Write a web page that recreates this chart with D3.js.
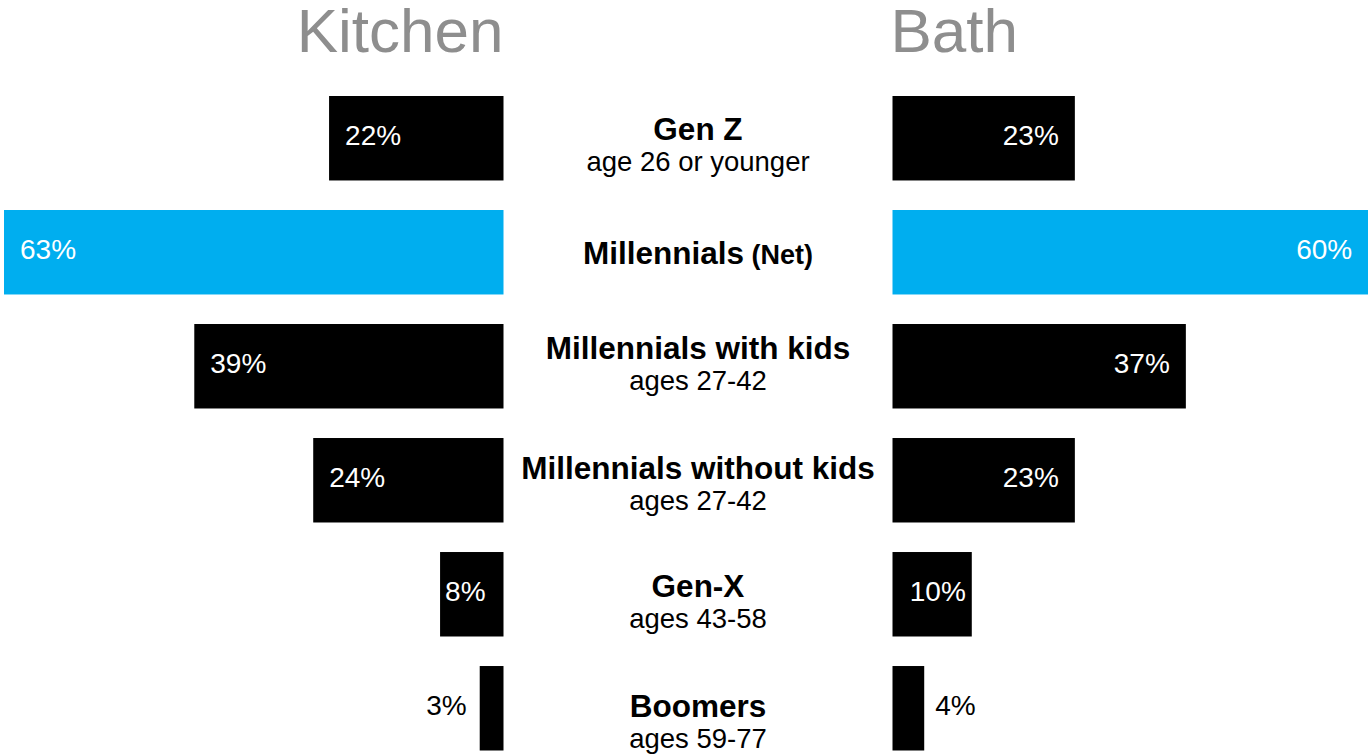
<!DOCTYPE html>
<html>
<head>
<meta charset="utf-8">
<script src="https://cdn.jsdelivr.net/npm/d3@7"></script>
<style>
  html, body { margin: 0; padding: 0; background: #fff; overflow: hidden; }
  svg { display: block; font-family: "Liberation Sans", Arial, Helvetica, sans-serif; }
</style>
</head>
<body>
<svg id="chart" width="1368" height="754"></svg>
<script>
// Generations shown in the middle column
const groupNames  = ["Gen Z", "Millennials", "Millennials with kids", "Millennials without kids", "Gen-X", "Boomers"];
const groupSuffix = ["", "(Net)", "", "", "", ""];
const groupAges   = ["age 26 or younger", "", "ages 27-42", "ages 27-42", "ages 43-58", "ages 59-77"];

// Share of each generation, in percent
const kitchenValues = [22, 63, 39, 24, 8, 3];
const bathValues    = [23, 60, 37, 23, 10, 4];

const highlightGroup = "Millennials";
const panelTitles = ["Kitchen", "Bath"];

// ---- layout ----
const W = 1368, H = 754;
const kitchenZero = 503.5;   // kitchen bars grow leftwards from here
const bathZero = 892.5;      // bath bars grow rightwards from here
const centerX = (kitchenZero + bathZero) / 2;
const pctFont = 28, nameFont = 31.5, ageFont = 27.5, suffixFont = 27;
// fine vertical placement of the centre labels (baseline of the bold line, from the band top)
const nameBaseline = [44, 54, 35, 41, 45, 51];
const ageGap = 31;

const svg = d3.select("#chart");

const x = d3.scaleLinear().domain([0, 63]).range([0, 499.5]);
const y = d3.scaleBand().domain(groupNames).range([96, 750.5]).paddingInner(0.259).paddingOuter(0);
const bw = y.bandwidth();

const fillFor = name => name === highlightGroup ? "#00aeef" : "#000000";

const rows = groupNames.map((name, i) => ({
  name, suffix: groupSuffix[i], ages: groupAges[i],
  kitchen: kitchenValues[i], bath: bathValues[i], idx: i
}));

// Panel titles
svg.append("text")
  .attr("x", kitchenZero).attr("y", 52)
  .attr("text-anchor", "end")
  .attr("font-size", 62).attr("fill", "#8e8e8e")
  .text(panelTitles[0]);
svg.append("text")
  .attr("x", bathZero - 2).attr("y", 52)
  .attr("text-anchor", "start")
  .attr("font-size", 62).attr("fill", "#8e8e8e")
  .text(panelTitles[1]);

// Kitchen bars
svg.append("g").selectAll("rect").data(rows).join("rect")
  .attr("x", d => kitchenZero - x(d.kitchen))
  .attr("y", d => y(d.name))
  .attr("width", d => x(d.kitchen))
  .attr("height", bw)
  .attr("fill", d => fillFor(d.name));

// Bath bars
svg.append("g").selectAll("rect").data(rows).join("rect")
  .attr("x", bathZero)
  .attr("y", d => y(d.name))
  .attr("width", d => x(d.bath))
  .attr("height", bw)
  .attr("fill", d => fillFor(d.name));

// Value labels: inside the bar's outer end when there is room, otherwise outside
function placeLabels(g, key, side) {
  g.selectAll("text").data(rows).join("text")
    .attr("font-size", pctFont)
    .attr("y", d => y(d.name) + bw / 2 + 7)
    .text(d => d[key] + "%")
    .each(function (d) {
      const t = d3.select(this);
      const tw = this.getComputedTextLength();
      const w = x(d[key]);
      if (side === "left") {
        const left = kitchenZero - w;
        if (w >= tw + 32)      t.attr("x", left + 16).attr("text-anchor", "start").attr("fill", "#fff");
        else if (w >= tw + 10) t.attr("x", left + 5).attr("text-anchor", "start").attr("fill", "#fff");
        else                   t.attr("x", left - 13).attr("text-anchor", "end").attr("fill", "#000");
      } else {
        const right = bathZero + w;
        if (w >= tw + 32)      t.attr("x", right - 16).attr("text-anchor", "end").attr("fill", "#fff");
        else if (w >= tw + 10) t.attr("x", right - 6).attr("text-anchor", "end").attr("fill", "#fff");
        else                   t.attr("x", right + 11).attr("text-anchor", "start").attr("fill", "#000");
      }
    });
}
placeLabels(svg.append("g"), "kitchen", "left");
placeLabels(svg.append("g"), "bath", "right");

// Centre labels: generation name (bold) and age range
const center = svg.append("g").selectAll("g").data(rows).join("g");
const nameText = center.append("text")
  .attr("x", centerX)
  .attr("y", d => y(d.name) + nameBaseline[d.idx])
  .attr("text-anchor", "middle")
  .attr("font-weight", "bold")
  .attr("font-size", nameFont)
  .attr("fill", "#000");
nameText.append("tspan").text(d => d.name);
nameText.filter(d => d.suffix).append("tspan")
  .attr("font-size", suffixFont)
  .text(d => " " + d.suffix);
center.filter(d => d.ages).append("text")
  .attr("x", centerX)
  .attr("y", d => y(d.name) + nameBaseline[d.idx] + ageGap)
  .attr("text-anchor", "middle")
  .attr("font-size", ageFont)
  .attr("fill", "#000")
  .text(d => d.ages);
</script>
</body>
</html>
